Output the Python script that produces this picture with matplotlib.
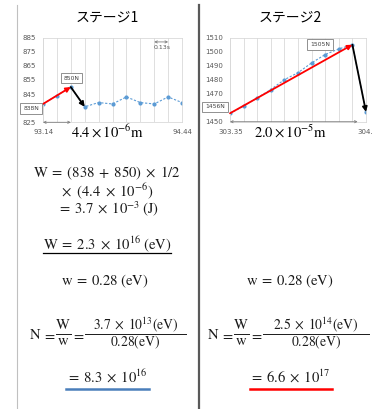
import matplotlib
matplotlib.use('Agg')
import matplotlib.pyplot as plt
from matplotlib.lines import Line2D

plt.rcParams['mathtext.fontset'] = 'stix'
plt.rcParams['font.family'] = ['Noto Sans CJK JP', 'DejaVu Sans']

W, H, DPI = 372, 409, 100

# ---------------- data ----------------
titles = ['ステージ1', 'ステージ2']
s1_time = [93.14, 93.27, 93.40, 93.53, 93.66, 93.79, 93.92, 94.05, 94.18, 94.31, 94.44]
s1_force = [838, 844, 850, 836, 839, 838, 843, 839, 838, 843, 839]
s1_yticks = [825, 835, 845, 855, 865, 875, 885]
s1_xlabels = ['93.14', '94.44']
s1_labels = ['838N', '850N']
s2_time = [303.35, 303.48, 303.61, 303.74, 303.87, 304.00, 304.13, 304.26, 304.39, 304.52, 304.65]
s2_force = [1456, 1461, 1467, 1473, 1480, 1485, 1492, 1498, 1502, 1505, 1457]
s2_yticks = [1450, 1460, 1470, 1480, 1490, 1500, 1510]
s2_xlabels = ['303.35', '304.65']
s2_labels = ['1456N', '1505N']

fig = plt.figure(figsize=(W / DPI, H / DPI), dpi=DPI)


def P(x, y):
    return (x / W, 1 - y / H)


def add_ax(x0, x1, y0, y1):
    return fig.add_axes([x0 / W, 1 - y1 / H, (x1 - x0) / W, (y1 - y0) / H])


def style_ax(ax, xs, yt):
    ax.set_xlim(xs[0], xs[-1])
    ax.set_ylim(yt[0], yt[-1])
    ax.set_yticks(yt)
    ax.set_xticks(xs)
    ax.set_xticklabels([])
    ax.tick_params(length=0, labelsize=5, labelcolor='#595959', pad=5)
    for lab in ax.get_yticklabels():
        lab.set_family('DejaVu Sans')
    ax.grid(axis='x', color='#d9d9d9', lw=0.6)
    ax.set_axisbelow(True)
    for s in ax.spines.values():
        s.set_color('#d9d9d9')
        s.set_linewidth(0.6)


def arrow(ax, a, b, color, lw=1.3, ms=7, style='-|>'):
    ax.annotate('', xy=b, xytext=a,
                arrowprops=dict(arrowstyle=style, color=color, lw=lw,
                                mutation_scale=ms, shrinkA=0, shrinkB=0),
                annotation_clip=False)


def box(x, y, s):
    fig.text(*P(x, y), s, ha='center', va='center', fontsize=4.3,
             family='DejaVu Sans', color='#404040', zorder=10,
             bbox=dict(boxstyle='square,pad=0.45', fc='white', ec='#7f7f7f', lw=0.6))


def hline(x0, x1, y, color, lw):
    (a, b), (c, d) = P(x0, y), P(x1, y)
    fig.add_artist(Line2D([a, c], [b, d], color=color, lw=lw, transform=fig.transFigure))


def vline(x, y0, y1, color, lw):
    (a, b), (c, d) = P(x, y0), P(x, y1)
    fig.add_artist(Line2D([a, c], [b, d], color=color, lw=lw, transform=fig.transFigure))


# ---------------- stage 1 chart ----------------
ax1 = add_ax(43, 182, 37.7, 122.3)
style_ax(ax1, s1_time, s1_yticks)
ax1.plot(s1_time, s1_force, color='#5B9BD5', ls=(0, (2, 1.5)), lw=0.8,
         marker='o', ms=2)
arrow(ax1, (s1_time[0], s1_force[0]), (s1_time[2], s1_force[2]), 'red')
arrow(ax1, (s1_time[2], s1_force[2]), (s1_time[3], s1_force[3]), 'black')
arrow(ax1, (s1_time[0], 825), (s1_time[2], 825), '#7f7f7f', lw=0.6, ms=4, style='<->')
arrow(ax1, (s1_time[8], 882), (s1_time[9], 882), '#7f7f7f', lw=0.6, ms=4, style='<->')
fig.text(*P(162, 47.5), '0.13s', ha='center', va='center', fontsize=4.5,
         family='DejaVu Sans', color='#595959')
box(31, 108.5, s1_labels[0])
box(71.5, 78, s1_labels[1])
fig.text(*P(44, 132), s1_xlabels[0], ha='center', va='center', fontsize=5,
         family='DejaVu Sans', color='#595959')
fig.text(*P(182, 132), s1_xlabels[1], ha='center', va='center', fontsize=5,
         family='DejaVu Sans', color='#595959')
fig.text(*P(107, 138), r'$4.4\times10^{-6}\mathrm{m}$', ha='center', va='baseline',
         fontsize=10.5)

# ---------------- stage 2 chart ----------------
ax2 = add_ax(230, 366, 37.7, 121.7)
style_ax(ax2, s2_time, s2_yticks)
ax2.plot(s2_time, s2_force, color='#5B9BD5', ls=(0, (2, 1.5)), lw=0.8,
         marker='o', ms=2)
arrow(ax2, (s2_time[0], s2_force[0]), (s2_time[9], s2_force[9]), 'red')
arrow(ax2, (s2_time[9], s2_force[9]), (s2_time[10], s2_force[10]), 'black')
arrow(ax2, (s2_time[0], 1450), (304.57, 1450), '#7f7f7f', lw=0.6, ms=4, style='<->')
box(215, 107, s2_labels[0])
box(320, 44.5, s2_labels[1])
fig.text(*P(231, 132), s2_xlabels[0], ha='center', va='center', fontsize=5,
         family='DejaVu Sans', color='#595959')
fig.text(*P(370, 132), s2_xlabels[1], ha='center', va='center', fontsize=5,
         family='DejaVu Sans', color='#595959')
fig.text(*P(290, 138), r'$2.0\times10^{-5}\mathrm{m}$', ha='center', va='baseline',
         fontsize=10.5)

# ---------------- titles ----------------
fig.text(*P(107, 18), titles[0], ha='center', va='center', fontsize=10)
fig.text(*P(290, 18), titles[1], ha='center', va='center', fontsize=10)

# ---------------- equations ----------------
FS = 10.5
TC = '#1a1a1a'
S = r'\;'
eqs = [
    (107, 177, r'$\mathrm{W}' + S + '=' + S + r'(838' + S + '+' + S + r'850)' + S + r'\times' + S + r'1/2$'),
    (107, 196, r'$\times\ \;(4.4' + S + r'\times' + S + r'10^{-6})$'),
    (108, 213.5, r'$=' + S + r'3.7' + S + r'\times' + S + r'10^{-3}' + S + r'(\mathrm{J})$'),
    (107, 249, r'$\mathrm{W}' + S + '=' + S + r'2.3' + S + r'\times' + S + r'10^{16}' + S + r'(\mathrm{eV})$'),
    (105, 285, r'$\mathrm{w}' + S + '=' + S + r'0.28' + S + r'(\mathrm{eV})$'),
    (290, 285, r'$\mathrm{w}' + S + '=' + S + r'0.28' + S + r'(\mathrm{eV})$'),
    (107, 383, r'$=' + S + r'8.3' + S + r'\times' + S + r'10^{16}$'),
    (290, 383, r'$=' + S + r'6.6' + S + r'\times' + S + r'10^{17}$'),
]
for x, y, s in eqs:
    fig.text(*P(x, y), s, ha='center', va='baseline', fontsize=FS, color=TC)


def n_equation(x0, num, bar_end):
    # x0: left edge of "N"
    fig.text(*P(x0, 339), r'$\mathrm{N}$', ha='left', va='baseline', fontsize=FS, color=TC)
    fig.text(*P(x0 + 19.5, 339), r'$=$', ha='center', va='baseline', fontsize=FS, color=TC)
    cx = x0 + 34
    fig.text(*P(cx, 329), r'$\mathrm{W}$', ha='center', va='baseline', fontsize=FS, color=TC)
    hline(cx - 7.5, cx + 7.5, 333.5, TC, 0.7)
    fig.text(*P(cx, 345), r'$\mathrm{w}$', ha='center', va='baseline', fontsize=FS, color=TC)
    fig.text(*P(cx + 15, 339), r'$=$', ha='center', va='baseline', fontsize=FS, color=TC)
    b0 = x0 + 56
    hline(b0, bar_end, 333.5, TC, 0.7)
    mid = (b0 + bar_end) / 2
    fig.text(*P(mid, 329.5), num, ha='center', va='baseline', fontsize=9.8, color=TC)
    fig.text(*P(mid, 346), r'$0.28(\mathrm{eV})$', ha='center', va='baseline',
             fontsize=9.8, color=TC)


n_equation(29, r'$3.7' + S + r'\times' + S + r'10^{13}(\mathrm{eV})$', 186)
n_equation(207, r'$2.5' + S + r'\times' + S + r'10^{14}(\mathrm{eV})$', 369)

# underlines
hline(43, 171, 252.5, 'black', 0.9)
hline(66, 149, 389, '#4a7ebb', 1.8)
hline(250, 332, 389, 'red', 1.8)

# vertical frame lines
vline(16.5, 5, 409, '#c0c0c0', 0.8)
vline(198.5, 5, 409, '#595959', 1.6)

fig.savefig('out.png', dpi=DPI)
